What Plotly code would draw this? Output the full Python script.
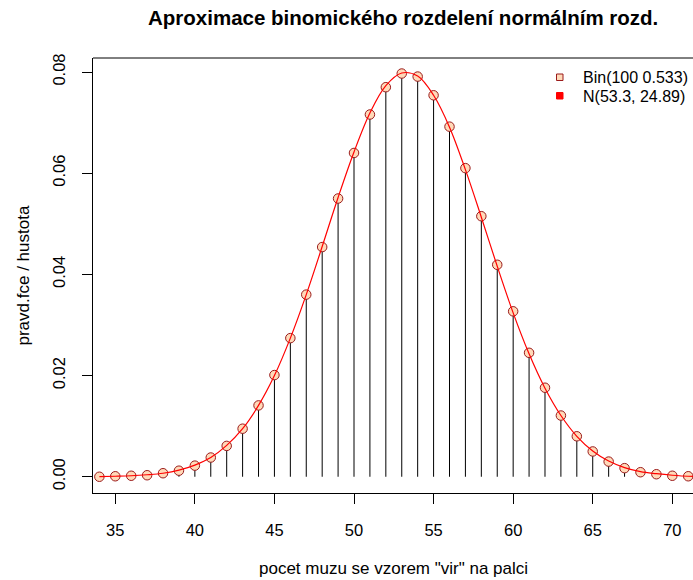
import plotly.graph_objects as go

# --- data ---
k_values = list(range(34, 72))
binom_pmf = [0.0000, 0.0001, 0.0002, 0.0003, 0.0007, 0.0012, 0.0022, 0.0038,
             0.0061, 0.0095, 0.0141, 0.0201, 0.0274, 0.0360, 0.0454, 0.0550,
             0.0640, 0.0716, 0.0770, 0.0797, 0.0791, 0.0754, 0.0692, 0.0610,
             0.0515, 0.0419, 0.0327, 0.0245, 0.0176, 0.0121, 0.0080, 0.0050,
             0.0030, 0.0017, 0.0009, 0.0005, 0.0002, 0.0001]
norm_x = list(range(34, 73))
norm_density = [0.00004, 0.0001, 0.0002, 0.0004, 0.0007, 0.0013, 0.0023, 0.0038,
                0.0062, 0.0095, 0.0141, 0.0200, 0.0274, 0.0360, 0.0455, 0.0552,
                0.0642, 0.0719, 0.0773, 0.0798, 0.0792, 0.0754, 0.0691, 0.0607,
                0.0513, 0.0416, 0.0324, 0.0243, 0.0175, 0.0121, 0.0080, 0.0051,
                0.0031, 0.0018, 0.0010, 0.0006, 0.0003, 0.0001, 0.00007]
x_ticks = [35, 40, 45, 50, 55, 60, 65, 70]
y_ticks = [0.00, 0.02, 0.04, 0.06, 0.08]
y_tick_labels = ["0.00", "0.02", "0.04", "0.06", "0.08"]
legend_labels = ["Bin(100 0.533)", "N(53.3, 24.89)"]

FONT = "Liberation Sans, Arial, sans-serif"
PEACH = "#FFDAB9"
DARKRED = "#9B1B1B"

W, H = 693, 580
ML, MT, MB, MR = 93, 58, 87, 0
PW, PH = W - ML - MR, H - MT - MB

# vertical stems built from the data
stem_x, stem_y = [], []
for k, p in zip(k_values, binom_pmf):
    stem_x += [k, k, None]
    stem_y += [0, p, None]

fig = go.Figure()
fig.add_trace(go.Scatter(x=stem_x, y=stem_y, mode="lines",
                         line=dict(color="black", width=1),
                         showlegend=False, hoverinfo="skip"))
fig.add_trace(go.Scatter(x=k_values, y=binom_pmf, mode="markers",
                         marker=dict(symbol="circle", size=9.5, color=PEACH,
                                     line=dict(color=DARKRED, width=1)),
                         showlegend=False))
fig.add_trace(go.Scatter(x=norm_x, y=norm_density, mode="lines",
                         line=dict(color="red", width=1.2, shape="spline"),
                         showlegend=False))

def px_x(px):
    return (px - ML) / PW

def px_y(py):
    return (H - MB - py) / PH

shapes = [
    # top border of the box
    dict(type="line", xref="paper", yref="paper", x0=0, x1=1, y0=1, y1=1,
         line=dict(color="black", width=1)),
    # legend keys
    dict(type="rect", xref="paper", yref="paper",
         x0=px_x(556.5), x1=px_x(563), y0=px_y(80.5), y1=px_y(74),
         fillcolor=PEACH, line=dict(color=DARKRED, width=1)),
    dict(type="rect", xref="paper", yref="paper",
         x0=px_x(556.5), x1=px_x(563), y0=px_y(99), y1=px_y(92.5),
         fillcolor="red", line=dict(color="red", width=1)),
]

annotations = [
    dict(text=legend_labels[0], xref="paper", yref="paper", x=px_x(581), y=px_y(77.5),
         xanchor="left", yanchor="middle", showarrow=False,
         font=dict(family=FONT, size=16, color="black")),
    dict(text=legend_labels[1], xref="paper", yref="paper", x=px_x(581), y=px_y(96.5),
         xanchor="left", yanchor="middle", showarrow=False,
         font=dict(family=FONT, size=16, color="black")),
    dict(text='pocet muzu se vzorem "vir" na palci', xref="paper", yref="paper",
         x=px_x(393), y=px_y(568), xanchor="center", yanchor="middle", showarrow=False,
         font=dict(family=FONT, size=17, color="black")),
    dict(text="pravd.fce / hustota", xref="paper", yref="paper",
         x=px_x(23), y=px_y(275.5), xanchor="center", yanchor="middle", showarrow=False,
         textangle=-90, font=dict(family=FONT, size=17, color="black")),
    dict(text="<b>Aproximace binomického rozdelení normálním rozd.</b>",
         xref="paper", yref="paper", x=px_x(403), y=px_y(18),
         xanchor="center", yanchor="middle", showarrow=False,
         font=dict(family=FONT, size=20.5, color="black")),
]

fig.update_layout(
    width=W, height=H,
    margin=dict(l=ML, r=MR, t=MT, b=MB, pad=0),
    paper_bgcolor="white", plot_bgcolor="white",
    font=dict(family=FONT, size=16.5, color="black"),
    shapes=shapes, annotations=annotations,
    showlegend=False,
)
fig.update_xaxes(range=[33.60, 71.30], tickvals=x_ticks,
                 ticks="outside", ticklen=10, tickwidth=1, tickcolor="black",
                 showline=True, linecolor="black", linewidth=1,
                 showgrid=False, zeroline=False, ticklabelstandoff=12,
                 tickfont=dict(family=FONT, size=16.5, color="black"))
fig.update_yaxes(range=[-0.00321, 0.08277], tickvals=y_ticks, ticktext=y_tick_labels,
                 ticks="outside", ticklen=10, tickwidth=1, tickcolor="black",
                 showline=True, linecolor="black", linewidth=1,
                 showgrid=False, zeroline=False, tickangle=-90, ticklabelstandoff=10,
                 tickfont=dict(family=FONT, size=16.5, color="black"))

fig.write_html("out.html",
               config={"displayModeBar": False},
               post_script="document.body.style.margin='0';"
                           "document.body.style.overflow='hidden';")
